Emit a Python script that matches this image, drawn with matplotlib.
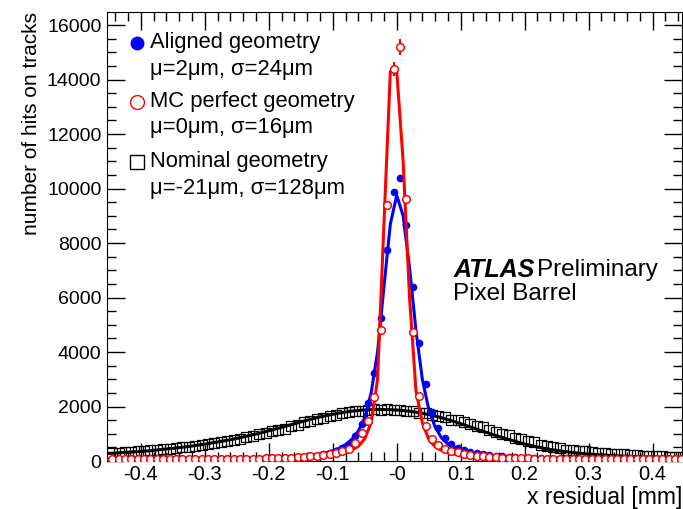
import numpy as np
import matplotlib
matplotlib.use("Agg")
import matplotlib.pyplot as plt
from matplotlib.ticker import MultipleLocator, FixedLocator, FixedFormatter

plt.rcParams['font.family'] = ['Liberation Sans', 'DejaVu Sans']
plt.rcParams['axes.unicode_minus'] = False

# bin centres of the residual histograms [mm]
bin_x = np.round(np.arange(-0.445, 0.4451, 0.01), 3)
# points where the fitted functions were drawn [mm]
fit_x = np.round(np.arange(-0.45, 0.4501, 0.01), 3)

aligned = [60, 55, 62, 58, 50, 64, 57, 60, 55, 62, 58, 61, 56, 63, 60, 66, 62, 65, 70, 68,
           72, 70, 75, 78, 80, 90, 100, 110, 115, 130, 150, 170, 200, 240, 290, 360, 460, 620, 900, 1350,
           2140, 3240, 5250, 7740, 9870, 10400, 8660, 6400, 4330, 2830, 1800, 1210, 840, 620, 480, 400, 330, 290, 255, 220,
           200, 180, 160, 140, 125, 110, 105, 95, 90, 85, 82, 78, 75, 72, 70, 68, 66, 64, 62, 65,
           60, 62, 58, 60, 57, 60, 55, 58, 56, 60]
mc_perfect = [65, 70, 62, 68, 66, 72, 64, 70, 68, 73, 70, 75, 72, 78, 74, 80, 78, 82, 80, 85,
              88, 84, 90, 86, 92, 95, 100, 110, 120, 135, 150, 170, 195, 225, 265, 290, 350, 450, 660, 1030,
              1450, 2350, 4800, 9400, 14400, 15200, 9600, 4750, 2400, 1300, 800, 600, 450, 380, 320, 270, 230, 200, 175, 155,
              140, 125, 115, 105, 95, 92, 88, 86, 84, 82, 80, 78, 80, 76, 75, 74, 72, 74, 70, 72,
              70, 68, 70, 66, 68, 65, 67, 64, 66, 65]
mc_err = [0] * 42 + [80, 120, 260, 300, 130, 90] + [0] * 42
nominal = [300, 290, 330, 320, 360, 350, 390, 400, 445, 430, 480, 510, 500, 560, 585, 620, 660, 700, 740, 770,
           820, 880, 900, 990, 1010, 1090, 1150, 1190, 1290, 1320, 1420, 1480, 1550, 1570, 1670, 1700, 1760, 1790, 1840, 1850,
           1860, 1900, 1880, 1910, 1860, 1880, 1830, 1850, 1780, 1760, 1700, 1650, 1600, 1520, 1500, 1420, 1360, 1290, 1230, 1140,
           1080, 990, 940, 860, 800, 720, 690, 600, 560, 500, 470, 420, 400, 360, 350, 320, 300, 280, 265, 250,
           240, 225, 215, 200, 195, 180, 175, 165, 160, 150]

aligned_fit = [60, 61, 62, 63, 64, 65, 66, 67, 68, 69, 70, 71, 72, 73, 74, 75, 76, 77, 78, 80,
               81, 82, 84, 86, 89, 92, 102, 114, 128, 145, 165, 190, 220, 260, 310, 380, 470, 600, 800, 1100,
               1600, 2500, 4000, 6400, 8700, 9750, 9000, 7100, 4800, 3000, 1900, 1250, 850, 620, 510, 410, 340, 285, 240, 205,
               178, 156, 138, 122, 110, 100, 95, 92, 89, 86, 84, 82, 80, 78, 76, 75, 74, 73, 72, 71,
               70, 69, 68, 67, 66, 65, 64, 63, 62, 61, 60]
mc_fit = [62, 63, 64, 65, 66, 67, 68, 69, 70, 71, 72, 73, 74, 75, 76, 77, 78, 79, 80, 81,
          82, 83, 84, 86, 88, 90, 93, 97, 105, 115, 125, 140, 155, 175, 195, 225, 265, 320, 400, 540,
          820, 1400, 3000, 8700, 14300, 14300, 11000, 6000, 2600, 1400, 800, 520, 390, 310, 255, 215, 185, 160, 140, 125,
          112, 104, 98, 94, 90, 87, 85, 84, 83, 82, 81, 80, 79, 78, 77, 76, 75, 74, 73, 72,
          71, 70, 70, 69, 68, 68, 67, 66, 66, 65, 65]
nominal_fit = [280, 292, 307, 322, 337, 352, 370, 392, 417, 442, 467, 492, 520, 550, 582, 620, 660, 700, 740, 782,
               830, 882, 937, 992, 1050, 1110, 1172, 1237, 1302, 1367, 1432, 1497, 1560, 1617, 1670, 1717, 1760, 1797, 1830, 1855,
               1872, 1885, 1891, 1890, 1883, 1870, 1851, 1825, 1792, 1752, 1705, 1650, 1587, 1520, 1447, 1370, 1290, 1210, 1130, 1050,
               972, 897, 825, 755, 687, 625, 567, 515, 467, 425, 387, 355, 326, 300, 277, 256, 238, 222, 208, 196,
               185, 175, 167, 160, 153, 147, 142, 138, 134, 130, 126]

fig = plt.figure(figsize=(6.83, 5.09), dpi=100)
ax = fig.add_axes([107 / 683, 48 / 509, 575 / 683, 449 / 509])

ax.plot(fit_x, nominal_fit, color='black', lw=2.2, zorder=2)
ax.plot(bin_x, nominal, ls='none', marker='s', ms=6.8, mfc='none', mec='black', mew=0.9, zorder=3)

ax.plot(fit_x, aligned_fit, color='blue', lw=2.2, zorder=4)
ax.plot(bin_x, aligned, ls='none', marker='o', ms=4.5, color='blue', zorder=5)

ax.plot(fit_x, mc_fit, color='red', lw=2.2, zorder=6)
ax.errorbar(bin_x, mc_perfect, yerr=mc_err, fmt='o', ms=5.5, mfc='white', mec='red', mew=1.1,
            ecolor='red', elinewidth=1.5, capsize=0, zorder=7)

ax.set_xlim(-0.453, 0.446)
ax.set_ylim(0, 16480)

ax.xaxis.set_major_locator(FixedLocator([-0.4, -0.3, -0.2, -0.1, 0.0, 0.1, 0.2, 0.3, 0.4]))
ax.xaxis.set_major_formatter(FixedFormatter(['-0.4', '-0.3', '-0.2', '-0.1', '-0', '0.1', '0.2', '0.3', '0.4']))
ax.xaxis.set_minor_locator(MultipleLocator(0.02))
ax.yaxis.set_major_locator(MultipleLocator(2000))
ax.yaxis.set_minor_locator(MultipleLocator(500))
ax.tick_params(which='both', direction='in', top=True, right=True, width=1)
ax.tick_params(which='major', length=13)
ax.tick_params(which='minor', length=6.5)
ax.tick_params(axis='x', pad=3, labelsize=14.5)
ax.tick_params(axis='y', pad=4, labelsize=14)

ax.set_xlabel('x residual [mm]', fontsize=16.5, ha='right', va='bottom')
ax.xaxis.set_label_coords(1.0, -0.1065)
ax.set_ylabel('number of hits on tracks', fontsize=15, ha='right', y=1.0, labelpad=4)

# legend drawn by hand, like the ROOT one
tx = 0.0748
mx = 0.052
fs = 15.8
ax.plot([mx], [0.931], marker='o', ms=9, color='blue', transform=ax.transAxes, clip_on=False)
ax.text(tx, 0.931, 'Aligned geometry', fontsize=fs, va='center', transform=ax.transAxes)
ax.text(tx, 0.873, 'μ=2μm, σ=24μm', fontsize=fs, va='center', transform=ax.transAxes)
ax.plot([mx], [0.800], marker='o', ms=10, mfc='none', mec='red', mew=1.0, transform=ax.transAxes, clip_on=False)
ax.text(tx, 0.800, 'MC perfect geometry', fontsize=fs, va='center', transform=ax.transAxes)
ax.text(tx, 0.742, 'μ=0μm, σ=16μm', fontsize=fs, va='center', transform=ax.transAxes)
ax.plot([mx], [0.666], marker='s', ms=10, mfc='none', mec='black', mew=1.0, transform=ax.transAxes, clip_on=False)
ax.text(tx, 0.666, 'Nominal geometry', fontsize=fs, va='center', transform=ax.transAxes)
ax.text(tx, 0.608, 'μ=-21μm, σ=128μm', fontsize=fs, va='center', transform=ax.transAxes)

ax.text(0.602, 0.425, 'ATLAS', fontsize=18, fontweight='bold', fontstyle='italic', va='center', transform=ax.transAxes)
ax.text(0.748, 0.425, 'Preliminary', fontsize=17.5, va='center', transform=ax.transAxes)
ax.text(0.602, 0.372, 'Pixel Barrel', fontsize=17.5, va='center', transform=ax.transAxes)

fig.savefig('out.png', dpi=100)
